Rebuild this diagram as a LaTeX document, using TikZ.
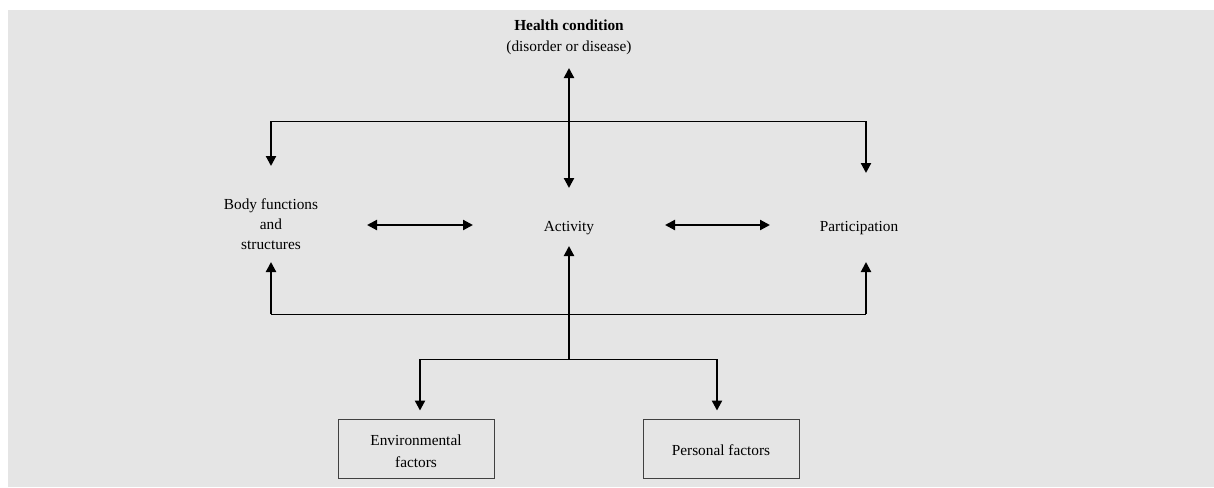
\documentclass[tikz,border=0pt]{standalone}
\usepackage{fontspec}
\setmainfont{Liberation Serif}
\usetikzlibrary{arrows.meta,calc}
\definecolor{bgc}{RGB}{229,229,229}
\definecolor{thin}{RGB}{90,90,90}
\tikzset{
  lbl/.style={align=center,inner sep=0pt},
  thick2/.style={line width=1.6pt,black},
  tip/.style={-{Triangle[length=7.5pt,width=7.5pt]}},
  dbl/.style={thick2,{Triangle[length=7.5pt,width=7.5pt]}-{Triangle[length=7.5pt,width=7.5pt]}},
  thinline/.style={line width=0.9pt,thin},
  fbox/.style={draw=black!75,line width=0.7pt,fill=bgc,minimum width=117pt,minimum height=44.25pt,inner sep=0pt},
  boxtext/.style={lbl,yshift=-2pt}
}
\begin{document}
\begin{tikzpicture}[x=0.75pt,y=-0.75pt,font=\fontsize{11.5}{14.5}\selectfont]
\useasboundingbox (0,0) rectangle (1214,487);
\fill[bgc] (8,10) rectangle (1214,487);

\node[lbl] (health) at (569,37) {\textbf{Health condition}\\[1pt](disorder or disease)};
\node[lbl] (body) at (271,224) {Body functions\\[0.5pt]and\\[0.5pt]structures};
\node[lbl] (act) at (569,228) {Activity};
\node[lbl] (part) at (859,228) {Participation};
\node[fbox,label={[boxtext]center:Environmental\\[2pt]factors}] (env) at (416,448.5) {};
\node[fbox,label={[boxtext,yshift=0.5pt]center:Personal factors}] (pers) at (721,448.5) {};

\coordinate (tl) at (271,121);
\coordinate (tr) at (866,121);
\coordinate (bl) at (271,314);
\coordinate (br) at (866,314);
\coordinate (mb) at (569,359);
\coordinate (ml) at (420,359);
\coordinate (mr) at (717,359);

% top
\draw[thinline] (tl) -- (tr);
\draw[dbl] ($(health)+(0,31)$) -- ($(act)+(0,-40)$);
\draw[thick2,tip] (tl) -- ($(body)+(0,-58)$);
\draw[thick2,tip] (tr) -- ($(part)+(7,-55)$);

% middle
\draw[dbl] ($(body)+(96,1)$) -- ($(act)+(-96,-3)$);
\draw[dbl] ($(act)+(96,-3)$) -- ($(part)+(-89,-3)$);

% bottom feedback
\draw[thinline] (bl) -- (br);
\draw[thick2,tip] (bl) -- ($(body)+(0,38)$);
\draw[thick2,tip] (br) -- ($(part)+(7,34)$);
\draw[thick2,tip] (mb) -- ($(act)+(0,18)$);

% factors
\draw[thinline] (ml) -- (mr);
\draw[thick2,tip] (ml) -- ($(env.north)+(4,-8)$);
\draw[thick2,tip] (mr) -- ($(pers.north)+(-4,-8)$);
\end{tikzpicture}
\end{document}
